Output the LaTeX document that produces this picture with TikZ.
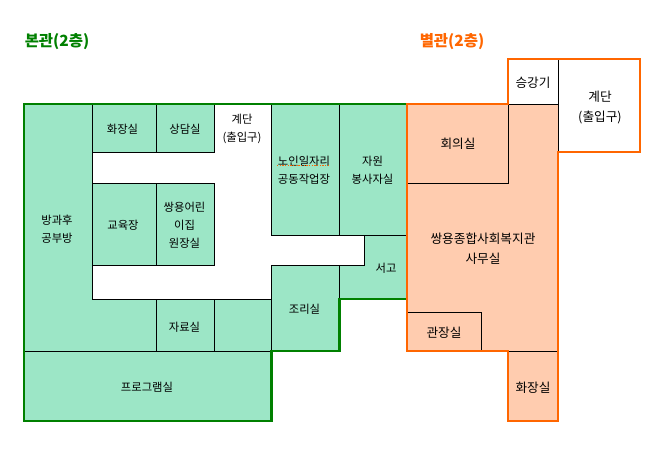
\documentclass[tikz,border=0pt]{standalone}
\usepackage{fontspec}
\setmainfont{Noto Sans CJK KR}
\definecolor{gfill}{HTML}{9CE6C6}
\definecolor{ofill}{HTML}{FFCCAF}
\definecolor{gline}{HTML}{008000}
\definecolor{oline}{HTML}{FF6600}
\tikzset{
  thinwall/.style={draw=black,line width=0.75pt},
  greenroom/.style={thinwall,fill=gfill},
  orangeroom/.style={fill=ofill},
  greenwall/.style={draw=gline,line width=1.6pt,line cap=rect,line join=miter},
  orangewall/.style={draw=oline,line width=1.6pt,line cap=rect,line join=miter},
  label/.style={font=\fontsize{8.5}{13.6}\selectfont,align=center,inner sep=0pt,text=black},
  biglabel/.style={font=\fontsize{9.5}{15}\selectfont,align=center,inner sep=0pt,text=black},
  heading/.style={font=\fontsize{11.6}{14}\selectfont\bfseries,inner sep=0pt},
  spellmark/.style={draw=oline,line width=0.6pt,dash pattern=on 1pt off 1pt},
}
\begin{document}
\begin{tikzpicture}[x=0.75pt,y=-0.75pt]
\useasboundingbox (0,0) rectangle (668,465);
% green rooms
\path[greenroom] (24,104) -- (92.5,104) -- (92.5,299) -- (156.5,299) -- (156.5,351) -- (24,351) -- cycle;
\path[greenroom] (92.5,104) rectangle (156.5,152.5);
\path[greenroom] (156.5,104) rectangle (214.5,152.5);
\path[greenroom] (92.5,183.5) rectangle (156.5,265);
\path[greenroom] (156.5,183.5) rectangle (214.5,265);
\path[greenroom] (156.5,299) rectangle (214.5,351);
\path[greenroom] (214.5,299) rectangle (271.5,351);
\path[greenroom] (271.5,265) rectangle (339.5,351);
\path[greenroom] (271.5,104) rectangle (339.5,235);
\path[greenroom] (339.5,104) rectangle (407,235);
\path[greenroom] (364.5,235) -- (407,235) -- (407,299) -- (339.5,299) -- (339.5,265) -- (364.5,265) -- cycle;
\path[greenroom] (24,351) rectangle (271.5,421);
% green outer wall
\path[greenwall] (407,299) -- (339.5,299) -- (339.5,351) -- (271.5,351) -- (271.5,421) -- (24,421) -- (24,104) -- (407,104);
% orange area
\path[orangeroom] (407,104) -- (558,104) -- (558,421) -- (508,421) -- (508,351) -- (407,351) -- cycle;
\path[thinwall] (407,183.5) -- (508,183.5) -- (508,104);
\path[thinwall] (508,104) -- (558,104);
\path[thinwall] (558,59) -- (558,152);
\path[thinwall] (508,351.5) -- (558,351.5);
\path[thinwall] (407,312.5) -- (481.5,312.5) -- (481.5,351);
% orange outer wall
\path[orangewall] (407,104) -- (508,104) -- (508,59) -- (640,59) -- (640,152) -- (558,152) -- (558,421) -- (508,421) -- (508,351) -- (407,351) -- cycle;
% headings
\node[heading,text=gline] (h1) at (57,42) {본관(2층)};
\node[heading,text=oline] (h2) at (452,42) {별관(2층)};
% labels
\node[label] (a1) at (122.5,129) {화장실};
\node[label] (a2) at (185,129) {상담실};
\node[label] (a3) at (242,129) {계단\\(출입구)};
\node[label] (a4) at (304,170.5) {노인일자리\\공동작업장};
\path[spellmark] (277,165) -- (330,165);
\node[label] (a5) at (372.5,170) {자원\\봉사자실};
\node[label] (a6) at (57,229) {방과후\\공부방};
\node[label] (a7) at (123,225) {교육장};
\node[label] (a8) at (184.5,225) {쌍용어린\\이집\\원장실};
\node[label] (a9) at (184.5,327) {자료실};
\node[label] (a10) at (304.5,309) {조리실};
\node[label] (a11) at (147,387) {프로그램실};
\node[label] (a12) at (386,268) {서고};
\node[biglabel] (b1) at (458,144) {회의실};
\node[biglabel] (b2) at (483,249) {쌍용종합사회복지관\\사무실};
\node[biglabel] (b3) at (444,333) {관장실};
\node[biglabel] (b4) at (533,388) {화장실};
\node[biglabel] (b5) at (533,83) {승강기};
\node[biglabel] (b6) at (600,107) {계단\\(출입구)};
\end{tikzpicture}
\end{document}
